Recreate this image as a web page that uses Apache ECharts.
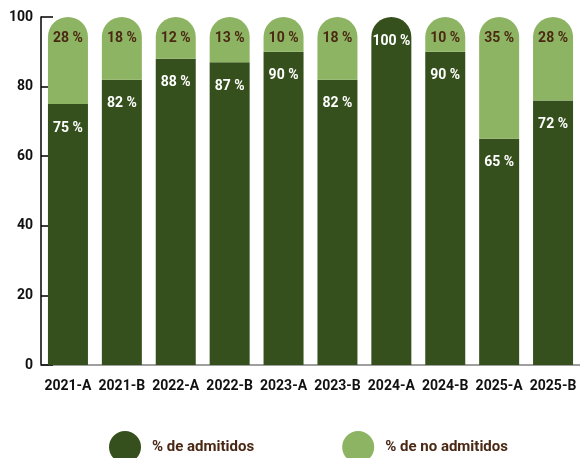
<!DOCTYPE html>
<html>
<head>
<meta charset="utf-8">
<script src="https://cdn.jsdelivr.net/npm/echarts@6/dist/echarts.min.js"></script>
<style>
  html, body { margin: 0; padding: 0; background: #fff; }
  #chart { width: 580px; height: 458px; }
</style>
</head>
<body>
<div id="chart"></div>
<script>
// periodos
var categories = ['2021-A', '2021-B', '2022-A', '2022-B', '2023-A', '2023-B', '2024-A', '2024-B', '2025-A', '2025-B']
// altura de las barras tal como se ven
var admitidos = [75, 82, 88, 87, 90, 82, 100, 90, 65, 76]
var noAdmitidos = [25, 18, 12, 13, 10, 18, 0, 10, 35, 24]
// porcentajes que muestran las etiquetas
var admitidosLabel = [75, 82, 88, 87, 90, 82, 100, 90, 65, 72]
var noAdmitidosLabel = [28, 18, 12, 13, 10, 18, 0, 10, 35, 28]
var yTicks = [0, 20, 40, 60, 80, 100]

var darkGreen = '#35501c'
var lightGreen = '#8db462'
var brown = '#4a2814'
var font = 'Roboto'

var chart = echarts.init(document.getElementById('chart'))

// la parte de arriba de cada barra lleva el borde redondeado
var darkData = admitidos.map(function (v, i) {
  return {
    value: v,
    itemStyle: { borderRadius: noAdmitidos[i] > 0 ? 0 : [20, 20, 0, 0] }
  }
})

var option = {
  animation: false,
  grid: { left: 41, top: 17, width: 542, height: 348 },
  legend: {
    top: 426,
    left: 104,
    itemWidth: 32,
    itemHeight: 32,
    itemGap: 88,
    icon: 'circle',
    textStyle: { color: brown, fontSize: 15, fontFamily: font, fontWeight: 'bold', padding: [0, 0, 0, 6] },
    data: ['% de admitidos', '% de no admitidos']
  },
  xAxis: {
    type: 'category',
    data: categories,
    axisLine: { lineStyle: { color: '#808080', width: 1.5 } },
    axisTick: { inside: true, length: 6, lineStyle: { color: '#000', width: 1.5 } },
    axisLabel: { interval: 0, color: '#111', fontSize: 14, fontFamily: font, fontWeight: 'bold', margin: 14 }
  },
  yAxis: {
    type: 'value',
    min: 0,
    max: 100,
    interval: 20,
    splitLine: { show: false },
    axisLine: { show: true, lineStyle: { color: '#000', width: 1.5 } },
    axisTick: { show: true, inside: true, length: 12, lineStyle: { color: '#000', width: 1.5 } },
    axisLabel: {
      color: '#111', fontSize: 14, fontFamily: font, fontWeight: 'bold', margin: 8,
      formatter: function (v) { return yTicks.indexOf(v) >= 0 ? v : '' }
    }
  },
  series: [
    {
      name: '% de admitidos',
      type: 'bar',
      stack: 'total',
      barWidth: 40,
      itemStyle: { color: darkGreen },
      label: {
        show: true,
        position: 'insideTop',
        distance: 17,
        color: '#fff',
        fontSize: 14,
        fontFamily: font,
        fontWeight: 'bold',
        formatter: function (p) { return admitidosLabel[p.dataIndex] + ' %' }
      },
      data: darkData
    },
    {
      name: '% de no admitidos',
      type: 'bar',
      stack: 'total',
      barWidth: 40,
      itemStyle: { color: lightGreen, borderRadius: [20, 20, 0, 0] },
      label: {
        show: true,
        position: 'insideTop',
        distance: 14,
        color: brown,
        fontSize: 14,
        fontFamily: font,
        fontWeight: 'bold',
        formatter: function (p) { return noAdmitidosLabel[p.dataIndex] > 0 ? noAdmitidosLabel[p.dataIndex] + ' %' : '' }
      },
      data: noAdmitidos
    }
  ]
}

chart.setOption(option)
</script>
</body>
</html>
